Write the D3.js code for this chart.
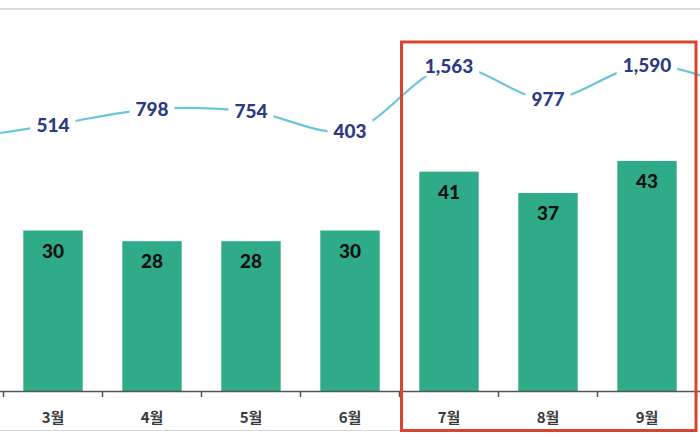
<!DOCTYPE html>
<html>
<head>
<meta charset="utf-8">
<script src="https://cdn.jsdelivr.net/npm/d3@7/dist/d3.min.js"></script>
<style>
  html, body { margin: 0; padding: 0; background: #fff; }
  svg { display: block; }
</style>
</head>
<body>
<svg id="chart" width="700" height="440"></svg>
<script>
// ---- data ----
const months = ["2월", "3월", "4월", "5월", "6월", "7월", "8월", "9월", "10월"];
const barValues = [25, 30, 28, 28, 30, 41, 37, 43, 35];
const lineValues = [240, 514, 798, 754, 403, 1563, 977, 1590, 1100];
const highlightMonths = ["7월", "9월"];

// ---- layout ----
const W = 700, H = 440;
const baseY = 391;
const svg = d3.select("#chart");

const x = d3.scaleBand()
  .domain(months)
  .range([-95.5, -95.5 + 99 * months.length])
  .paddingInner(0.4)
  .paddingOuter(0.2);

const yBar = d3.scaleLinear().domain([0, 50]).range([baseY, baseY - 267.5]);
const yLine = d3.scaleLinear().domain([0, 2000]).range([153.4, 42.2]);

const fontNum = "Lato, 'Open Sans', 'Noto Sans', sans-serif";
const cx = m => x(m) + x.bandwidth() / 2;
// only months whose centre is inside the picture get text labels
const shown = months.map((m, i) => i).filter(i => cx(months[i]) > 0 && cx(months[i]) < W);

// top separator
svg.append("line").attr("x1", 0).attr("x2", W).attr("y1", 9).attr("y2", 9)
  .attr("stroke", "#dcdcdc").attr("stroke-width", 2);
// bottom separator
svg.append("line").attr("x1", 0).attr("x2", 400).attr("y1", 430.5).attr("y2", 430.5)
  .attr("stroke", "#d6d6d6").attr("stroke-width", 1);

// bars
svg.selectAll("rect.bar").data(months).enter().append("rect")
  .attr("class", "bar")
  .attr("x", d => x(d))
  .attr("width", x.bandwidth())
  .attr("y", (d, i) => yBar(barValues[i]))
  .attr("height", (d, i) => baseY - yBar(barValues[i]))
  .attr("fill", "#2fab87");

// bar labels
svg.selectAll("text.blab").data(shown).enter().append("text")
  .attr("class", "blab")
  .attr("x", i => cx(months[i]))
  .attr("y", i => yBar(barValues[i]) + 27)
  .attr("text-anchor", "middle")
  .attr("font-family", fontNum)
  .attr("font-weight", "900")
  .attr("font-size", 19)
  .attr("fill", "#111")
  .text(i => barValues[i]);

// x axis
const xAxisG = svg.append("g");
xAxisG.append("line").attr("x1", 0).attr("x2", W).attr("y1", baseY + 0.5).attr("y2", baseY + 0.5)
  .attr("stroke", "#555").attr("stroke-width", 1.5);
const step = x.step();
const boundaries = months.map(m => x(m) - x.paddingInner() * step / 2);
xAxisG.selectAll("line.tick").data(boundaries).enter().append("line")
  .attr("class", "tick")
  .attr("x1", d => d).attr("x2", d => d)
  .attr("y1", baseY).attr("y2", baseY + 6)
  .attr("stroke", "#555").attr("stroke-width", 1.5);
xAxisG.selectAll("text").data(shown).enter().append("text")
  .attr("x", i => cx(months[i]))
  .attr("y", 423)
  .attr("text-anchor", "middle")
  .attr("font-family", "'Noto Sans CJK KR', sans-serif")
  .attr("font-weight", "bold")
  .attr("font-size", 15)
  .attr("fill", "#3a3a3a")
  .text(i => months[i]);

// line
const pts = months.map((m, i) => [cx(m), yLine(lineValues[i])]);
const lineGen = d3.line().curve(d3.curveCatmullRom.alpha(0.5));
svg.append("path")
  .attr("d", lineGen(pts))
  .attr("fill", "none")
  .attr("stroke", "#6cc4d8")
  .attr("stroke-width", 2.2);

// line labels with white backgrounds
const fmt = d3.format(",");
const lg = svg.selectAll("g.llab").data(shown).enter().append("g").attr("class", "llab");
lg.append("rect");
lg.append("text")
  .attr("x", i => pts[i][0])
  .attr("y", i => pts[i][1])
  .attr("dy", "0.36em")
  .attr("text-anchor", "middle")
  .attr("font-family", fontNum)
  .attr("font-weight", "900")
  .attr("font-size", 19)
  .attr("fill", "#2d3b82")
  .text(i => fmt(lineValues[i]));
lg.each(function () {
  const t = d3.select(this).select("text").node().getBBox();
  d3.select(this).select("rect")
    .attr("x", t.x - 6).attr("y", t.y + 1)
    .attr("width", t.width + 12).attr("height", t.height - 2)
    .attr("fill", "#fff");
});

// highlight box
const bx0 = x(highlightMonths[0]) - x.paddingInner() * step / 2 + 2;
const bx1 = x(highlightMonths[1]) + x.bandwidth() + x.paddingInner() * step / 2 - 0.5;
svg.append("rect")
  .attr("x", bx0).attr("y", 42)
  .attr("width", bx1 - bx0).attr("height", 388.5)
  .attr("fill", "none")
  .attr("stroke", "#d8452f")
  .attr("stroke-width", 3);
</script>
</body>
</html>
